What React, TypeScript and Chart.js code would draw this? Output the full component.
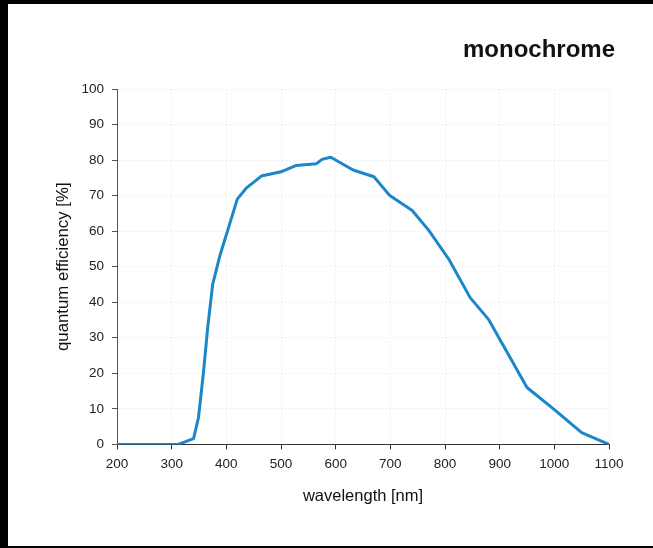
import React, { useEffect, useRef } from "react";
import { Chart, registerables } from "chart.js";

Chart.register(...registerables);

const chartTitle = "monochrome";
const xAxisTitle = "wavelength [nm]";
const yAxisTitle = "quantum efficiency [%]";

const wavelengths = [200, 312, 340, 349, 358, 366, 375, 388, 400, 405, 420, 437, 464, 500, 528, 565, 575, 591, 632, 670, 699, 740, 770, 807, 846, 880, 950, 1000, 1050, 1100];
const efficiency = [0, 0, 1.6, 7.5, 20, 33, 45, 53, 59, 61.5, 69, 72.2, 75.5, 76.7, 78.5, 79, 80.2, 80.8, 77.2, 75.3, 70, 65.8, 60.3, 52.1, 41.3, 35.1, 16, 9.8, 3.3, 0];

const xTickValues = [200, 300, 400, 500, 600, 700, 800, 900, 1000, 1100];
const yTickValues = [0, 10, 20, 30, 40, 50, 60, 70, 80, 90, 100];

const FONT = '"Liberation Sans", Arial, Helvetica, sans-serif';

export default function App() {
  const canvasRef = useRef<HTMLCanvasElement | null>(null);

  useEffect(() => {
    const canvas = canvasRef.current;
    if (!canvas) return;
    const points = wavelengths.map((x, i) => ({ x, y: efficiency[i] }));
    const chart = new Chart(canvas, {
      type: "line",
      data: {
        datasets: [
          {
            data: points,
            borderColor: "#1a87c9",
            borderWidth: 3,
            pointRadius: 0,
            tension: 0,
            fill: false,
            borderJoinStyle: "round",
          },
        ],
      },
      options: {
        animation: false,
        responsive: false,
        layout: { padding: { top: 0, left: 40, right: 38, bottom: 33.1 } },
        plugins: {
          legend: { display: false },
          tooltip: { enabled: false },
          title: {
            display: true,
            text: chartTitle,
            align: "end",
            color: "#111",
            font: { family: FONT, size: 24, weight: "bold", lineHeight: 1.2 },
            padding: { top: 31.6, bottom: 24.6 },
          },
        },
        scales: {
          x: {
            type: "linear",
            min: 200,
            max: 1100,
            afterBuildTicks: (scale: any) => {
              scale.ticks = xTickValues.map((v) => ({ value: v }));
            },
            ticks: {
              color: "#222",
              padding: 7,
              font: { family: FONT, size: 13.5 },
              maxRotation: 0,
              autoSkip: false,
              callback: (v: any) => String(v),
            },
            grid: {
              color: "#e4e4e4",
              lineWidth: 1,
              drawTicks: true,
              tickLength: 5,
              tickColor: "#333",
              tickWidth: 1,
            },
            border: { display: true, color: "#333", width: 1, dash: [1, 3] },
            title: {
              display: true,
              text: xAxisTitle,
              color: "#111",
              font: { family: FONT, size: 16.5, lineHeight: 1.2 },
              padding: { top: 6.7, bottom: 6.8 },
            },
          },
          y: {
            type: "linear",
            min: 0,
            max: 100,
            afterBuildTicks: (scale: any) => {
              scale.ticks = yTickValues.map((v) => ({ value: v }));
            },
            afterFit: (scale: any) => {
              scale.width = 69;
            },
            ticks: {
              color: "#222",
              padding: 8,
              font: { family: FONT, size: 13.5 },
              autoSkip: false,
              callback: (v: any) => String(v),
            },
            grid: {
              color: "#e4e4e4",
              lineWidth: 1,
              drawTicks: true,
              tickLength: 5,
              tickColor: "#555",
              tickWidth: 1,
            },
            border: { display: true, color: "#555", width: 1, dash: [1, 3] },
            title: {
              display: true,
              text: yAxisTitle,
              color: "#111",
              font: { family: FONT, size: 16.8, lineHeight: 1.2 },
              padding: { top: 5, bottom: 4 },
            },
          },
          yRight: {
            type: "linear",
            position: "right",
            min: 0,
            max: 100,
            display: true,
            ticks: { display: false },
            grid: { display: false, drawOnChartArea: false, drawTicks: false },
            border: { display: false },
            title: { display: false },
            afterFit: (scale: any) => {
              scale.width = 6;
            },
          },
        },
      },
    } as any);
    return () => chart.destroy();
  }, []);

  return (
    <div style={{ position: "fixed", left: 0, top: 0, width: 653, height: 548, background: "#000" }}>
      <div style={{ position: "absolute", left: 8, top: 4, width: 645, height: 542, background: "#fff" }}>
        <canvas ref={canvasRef} width={645} height={542} style={{ display: "block", width: 645, height: 542 }} />
      </div>
    </div>
  );
}
